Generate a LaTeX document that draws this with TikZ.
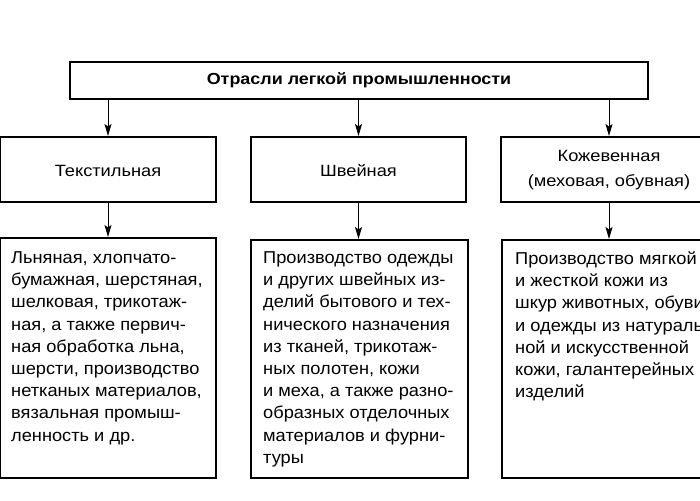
\documentclass[tikz,border=0pt]{standalone}
\usepackage{fontspec}
\setmainfont{Liberation Sans}[FakeStretch=1.12]
\newfontfamily\bodyfont{Liberation Sans}[FakeStretch=1.06]
\usetikzlibrary{arrows.meta}
\tikzset{
  box/.style={draw=black, line width=2pt, inner sep=0pt, fill=none},
  arr/.style={line width=0.9pt, -{Stealth[length=12pt,width=7pt,inset=2.5pt]}},
  head/.style={font=\bfseries\fontsize{16}{20}\selectfont, inner sep=0pt},
  lab/.style={font=\fontsize{16.3}{25}\selectfont, align=center, inner sep=0pt},
  body/.style={font=\bodyfont\fontsize{17.2}{22.2}\selectfont, align=left, inner sep=0pt, anchor=north west}
}
\begin{document}
\begin{tikzpicture}[x=1pt,y=-1pt]
\clip (0,0) rectangle (700,500);
\fill[white] (0,0) rectangle (700,500);
% top
\node[box, minimum width=578pt, minimum height=37pt] (top) at (359,80.5) {};
\node[head] (toptext) at (top.center) {Отрасли легкой промышленности};
% row
\node[box, minimum width=216pt, minimum height=65pt] (r1) at (108,169.5) {};
\node[box, minimum width=215pt, minimum height=65pt] (r2) at (358.5,169.5) {};
\node[box, minimum width=216pt, minimum height=65pt] (r3) at (609,169.5) {};
\node[lab] (r1t) at ([yshift=-1.5pt]r1.center) {Текстильная};
\node[lab] (r2t) at ([yshift=-1.5pt]r2.center) {Швейная};
\node[lab] (r3t) at ([yshift=-1pt]r3.center) {Кожевенная\\(меховая, обувная)};
% bottom
\node[box, minimum width=216pt, minimum height=240pt] (b1) at (108,358) {};
\node[box, minimum width=217pt, minimum height=238pt] (b2) at (359.5,359) {};
\node[box, minimum width=216pt, minimum height=238pt] (b3) at (610,359) {};
\node[body] (b1t) at (11,251.5) {Льняная, хлопчато-\\бумажная, шерстяная,\\шелковая, трикотаж-\\ная, а также первич-\\ная обработка льна,\\шерсти, производство\\нетканых материалов,\\вязальная промыш-\\ленность и др.};
\node[body] (b2t) at (263,251.5) {Производство одежды\\и других швейных из-\\делий бытового и тех-\\нического назначения\\из тканей, трикотаж-\\ных полотен, кожи\\и меха, а также разно-\\образных отделочных\\материалов и фурни-\\туры};
\node[body] (b3t) at (515,251.5) {Производство мягкой\\и жесткой кожи из\\шкур животных, обуви\\и одежды из натураль-\\ной и искусственной\\кожи, галантерейных\\изделий};
% arrows
\draw[arr] (top.south -| r1.north) -- (r1.north);
\draw[arr] (top.south -| r2.north) -- (r2.north);
\draw[arr] (top.south -| r3.north) -- (r3.north);
\draw[arr] (r1.south) -- (r1.south |- b1.north);
\draw[arr] (r2.south) -- (r2.south |- b2.north);
\draw[arr] (r3.south) -- (r3.south |- b3.north);
\end{tikzpicture}
\end{document}
